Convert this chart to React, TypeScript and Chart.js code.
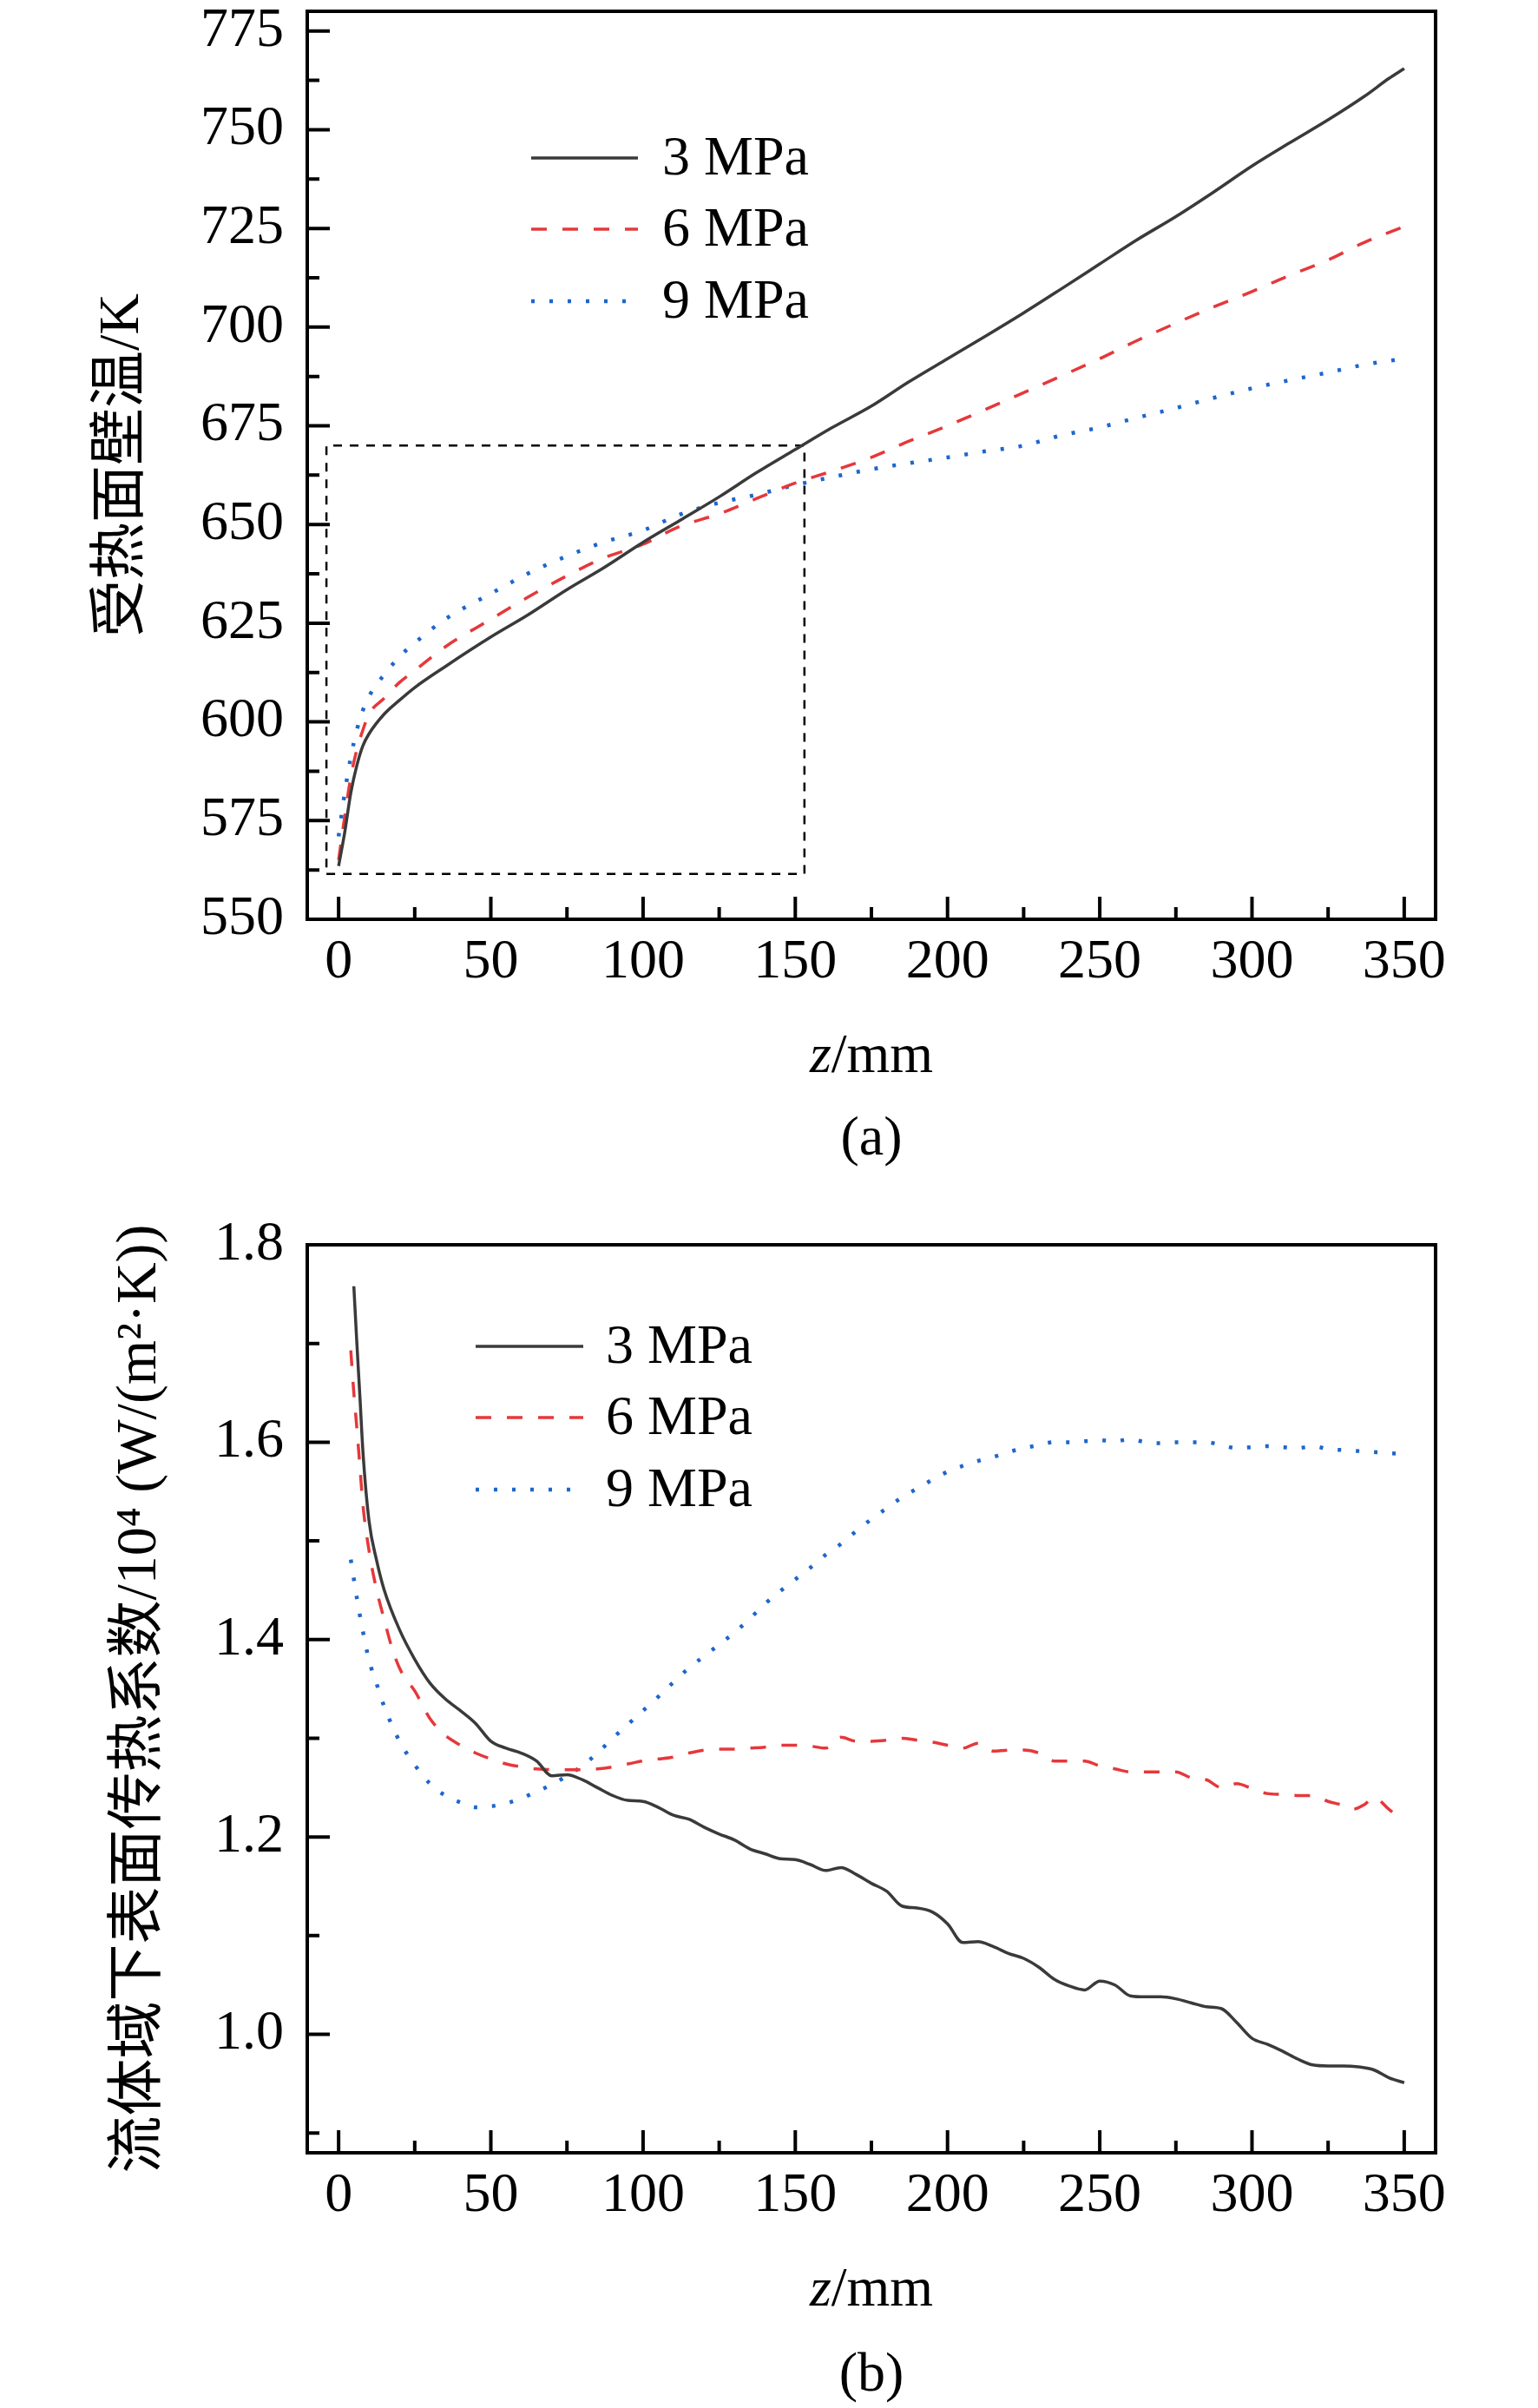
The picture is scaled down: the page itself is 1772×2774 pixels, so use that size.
import { useEffect, useRef } from "react";
import { Chart, registerables } from "chart.js";
Chart.register(...registerables);

const SERIES = ["3 MPa", "6 MPa", "9 MPa"];
const COLORS = ["#3a3a3a", "#e5383b", "#1e66cc"];
const DASHES = [[], [18, 18], [4, 17]];
const FONT = "'Liberation Serif', 'Noto Sans CJK SC', serif";

// (a) wall temperature, K
const zA3 = [0, 2, 4, 6, 8, 10, 15, 20, 25, 35, 50, 62, 75, 87, 100, 112, 125, 137, 150, 162, 175, 187, 200, 212, 225, 237, 250, 262, 275, 287, 300, 312, 325, 337, 345, 350];
const tA3 = [563.5, 572, 582, 589, 594, 597, 602, 605.5, 608.7, 614, 621.5, 627, 633.5, 639, 645.5, 651, 657, 663, 669, 674.5, 680, 686, 692, 697.5, 703.6, 709.5, 716, 722, 728, 734, 740.8, 746.5, 752.5, 758.5, 763, 765.5];
const zA6 = [0, 2, 4, 6, 8, 10, 15, 20, 25, 35, 50, 62, 75, 87, 100, 112, 125, 137, 150, 162, 175, 187, 200, 212, 225, 237, 250, 262, 275, 287, 300, 312, 325, 337, 350];
const tA6 = [565, 576, 586, 593, 598, 602, 606, 610, 613, 619, 626, 631.5, 637, 641.5, 645, 649.5, 652.7, 656.5, 660.5, 663.5, 667, 671, 675, 679, 683.4, 687.5, 692, 696.5, 701, 705, 709, 713, 717, 721.5, 725.5];
const zA9 = [0, 2, 4, 6, 8, 10, 15, 20, 25, 35, 50, 62, 75, 87, 100, 112, 125, 137, 150, 162, 175, 187, 200, 212, 225, 237, 250, 262, 275, 287, 300, 312, 325, 337, 350];
const tA9 = [571, 582, 591, 598, 603, 606.5, 612, 616.5, 620, 626, 632.5, 637.5, 642, 645.5, 648.5, 652.5, 655.5, 657.5, 660, 662, 664, 665.5, 667, 668.5, 670, 672.5, 674.6, 677, 679.5, 682, 684.5, 686.5, 688.5, 690.5, 692];
// zoom box in (a)
const boxZ = [-4, 153, 153, -4, -4];
const boxT = [561.5, 561.5, 670, 670, 561.5];

// (b) heat transfer coefficient, 10^4 W/(m2 K)
const zB3 = [5, 6, 7, 8, 10, 12.5, 15, 20, 25, 30, 35, 40, 45, 50, 55, 60, 65, 70, 75, 80, 85, 90, 95, 100, 105, 110, 115, 120, 125, 130, 135, 140, 145, 150, 155, 160, 165, 170, 175, 180, 185, 190, 195, 200, 205, 210, 215, 220, 225, 230, 235, 240, 245, 250, 255, 260, 265, 270, 275, 280, 285, 290, 295, 300, 305, 310, 315, 320, 325, 330, 335, 340, 345, 350];
const hB3 = [1.758, 1.7, 1.646, 1.59, 1.52, 1.48, 1.45, 1.41, 1.38, 1.356, 1.34, 1.328, 1.315, 1.297, 1.29, 1.285, 1.277, 1.262, 1.263, 1.258, 1.25, 1.242, 1.237, 1.236, 1.23, 1.222, 1.218, 1.21, 1.203, 1.197, 1.188, 1.183, 1.178, 1.177, 1.172, 1.166, 1.169, 1.162, 1.153, 1.145, 1.13, 1.128, 1.124, 1.112, 1.093, 1.094, 1.089, 1.082, 1.077, 1.068, 1.056, 1.049, 1.045, 1.054, 1.05, 1.039, 1.038, 1.038, 1.036, 1.032, 1.028, 1.026, 1.012, 0.996, 0.99, 0.983, 0.975, 0.969, 0.968, 0.968, 0.967, 0.964, 0.956, 0.951];
const zB6 = [4, 5, 6, 7, 8, 10, 12, 15, 18, 21, 25, 30, 35, 40, 45, 50, 55, 60, 65, 75, 80, 85, 90, 95, 100, 105, 110, 115, 120, 125, 130, 135, 140, 145, 150, 155, 160, 165, 170, 175, 180, 185, 190, 195, 200, 205, 210, 215, 220, 225, 230, 235, 240, 245, 250, 255, 260, 265, 270, 275, 280, 285, 290, 295, 300, 305, 310, 315, 320, 325, 330, 333, 337, 340, 345, 350];
const hB6 = [1.693, 1.65, 1.614, 1.575, 1.536, 1.49, 1.457, 1.42, 1.387, 1.365, 1.348, 1.32, 1.303, 1.293, 1.285, 1.279, 1.274, 1.271, 1.269, 1.268, 1.268, 1.269, 1.271, 1.274, 1.277, 1.279, 1.281, 1.285, 1.288, 1.289, 1.289, 1.29, 1.291, 1.293, 1.293, 1.292, 1.29, 1.301, 1.297, 1.297, 1.298, 1.3, 1.298, 1.296, 1.293, 1.29, 1.295, 1.287, 1.288, 1.288, 1.285, 1.277, 1.277, 1.277, 1.272, 1.269, 1.266, 1.266, 1.266, 1.266, 1.26, 1.258, 1.25, 1.254, 1.249, 1.244, 1.243, 1.242, 1.242, 1.236, 1.232, 1.228, 1.233, 1.24, 1.228, 1.215];
const zB9 = [4, 6, 8, 10, 12.5, 15, 20, 25, 30, 35, 40, 45, 50, 55, 60, 65, 70, 75, 80, 85, 90, 95, 100, 105, 110, 115, 120, 125, 130, 135, 140, 145, 150, 155, 160, 165, 170, 175, 180, 185, 190, 195, 200, 205, 210, 215, 220, 225, 230, 235, 240, 245, 250, 255, 260, 265, 270, 275, 280, 285, 290, 295, 300, 305, 310, 315, 320, 325, 330, 335, 340, 345, 350];
const hB9 = [1.481, 1.442, 1.408, 1.379, 1.355, 1.332, 1.297, 1.273, 1.254, 1.242, 1.235, 1.23, 1.231, 1.234, 1.239, 1.246, 1.253, 1.262, 1.272, 1.285, 1.3, 1.314, 1.328, 1.342, 1.357, 1.371, 1.383, 1.395, 1.407, 1.421, 1.436, 1.449, 1.461, 1.473, 1.486, 1.497, 1.51, 1.522, 1.533, 1.544, 1.553, 1.562, 1.57, 1.576, 1.581, 1.585, 1.59, 1.594, 1.597, 1.6, 1.6, 1.601, 1.602, 1.601, 1.603, 1.6, 1.599, 1.6, 1.6, 1.6, 1.597, 1.594, 1.595, 1.596, 1.595, 1.594, 1.596, 1.593, 1.592, 1.591, 1.59, 1.589, 1.588];

// ticks
const xMajor = [0, 50, 100, 150, 200, 250, 300, 350];
const xMinor = [25, 75, 125, 175, 225, 275, 325];
const yMajorA = [550, 575, 600, 625, 650, 675, 700, 725, 750, 775];
const yMinorA = [562.5, 587.5, 612.5, 637.5, 662.5, 687.5, 712.5, 737.5, 762.5];
const yMajorB = [1.0, 1.2, 1.4, 1.6, 1.8];
const yMinorB = [0.9, 1.1, 1.3, 1.5, 1.7];

const pts = (xs, ys) => xs.map((x, i) => ({ x, y: ys[i] }));

const framePlugin = {
  id: "frame",
  afterDraw(chart, _args, o) {
    const { ctx, chartArea: a, scales } = chart;
    const sx = scales.x;
    const sy = scales.y;
    ctx.save();
    ctx.strokeStyle = "#000";
    ctx.lineWidth = 4;
    ctx.beginPath();
    const xt = (vals, len) => vals.forEach((v) => {
      const p = sx.getPixelForValue(v);
      ctx.moveTo(p, a.bottom);
      ctx.lineTo(p, a.bottom - len);
    });
    const yt = (vals, len) => vals.forEach((v) => {
      const p = sy.getPixelForValue(v);
      ctx.moveTo(a.left, p);
      ctx.lineTo(a.left + len, p);
    });
    xt(xMajor, 26);
    xt(xMinor, 14);
    yt(o.yMajor, 26);
    yt(o.yMinor, 14);
    ctx.stroke();
    ctx.strokeRect(a.left, a.top, a.right - a.left, a.bottom - a.top);

    // legend
    ctx.textBaseline = "middle";
    ctx.textAlign = "left";
    ctx.font = "64px " + FONT;
    ctx.fillStyle = "#000";
    for (let i = 0; i < 3; i++) {
      const ds = chart.data.datasets[i];
      const y = a.top + o.legendRows[i];
      ctx.save();
      ctx.strokeStyle = ds.borderColor;
      ctx.lineWidth = ds.borderWidth;
      ctx.setLineDash(ds.borderDash);
      ctx.beginPath();
      ctx.moveTo(a.left + o.legendX[0], y);
      ctx.lineTo(a.left + o.legendX[1], y);
      ctx.stroke();
      ctx.restore();
      ctx.fillText(ds.label, a.left + o.legendX[2], y + 2);
    }

    // x title: italic z + /mm
    const cx = (a.left + a.right) / 2;
    ctx.font = "italic 64px " + FONT;
    const w1 = ctx.measureText("z").width;
    ctx.font = "64px " + FONT;
    const w2 = ctx.measureText("/mm").width;
    const x0 = cx - (w1 + w2) / 2;
    ctx.font = "italic 64px " + FONT;
    ctx.fillText("z", x0, a.bottom + 159);
    ctx.font = "64px " + FONT;
    ctx.fillText("/mm", x0 + w1, a.bottom + 159);

    // caption
    ctx.textAlign = "center";
    ctx.fillText(o.caption, cx, a.bottom + o.captionDy);

    // y title
    ctx.save();
    ctx.translate(o.yTitleX, (a.top + a.bottom) / 2);
    ctx.rotate(-Math.PI / 2);
    ctx.font = "66px " + FONT;
    ctx.fillText(o.yTitle, 0, 0);
    ctx.restore();
    ctx.restore();
  },
};

function makeConfig(p) {
  return {
    type: "line",
    data: {
      datasets: [
        ...p.series.map((s, i) => ({
          label: SERIES[i],
          data: s,
          borderColor: COLORS[i],
          borderWidth: i === 2 ? 4.5 : 3.5,
          borderDash: DASHES[i],
          pointRadius: 0,
          cubicInterpolationMode: "monotone",
          fill: false,
        })),
        ...(p.extra || []),
      ],
    },
    options: {
      animation: false,
      responsive: false,
      devicePixelRatio: 1,
      layout: { padding: { top: p.padTop, right: 118, left: 0, bottom: 0 } },
      plugins: {
        legend: { display: false },
        tooltip: { enabled: false },
        frame: p.frame,
      },
      scales: {
        x: {
          type: "linear",
          min: -10.3,
          max: 360.3,
          grid: { display: false, drawTicks: false },
          border: { display: false },
          afterBuildTicks: (s) => { s.ticks = xMajor.map((v) => ({ value: v })); },
          afterFit: (s) => {
            s.height = p.xHeight;
            s.paddingLeft = 0;
            s.paddingRight = 0;
          },
          ticks: {
            padding: 12,
            color: "#000",
            font: { family: FONT, size: 64 },
            callback: (v) => String(v),
          },
        },
        y: {
          type: "linear",
          min: p.yMin,
          max: p.yMax,
          grid: { display: false, drawTicks: false },
          border: { display: false },
          afterBuildTicks: (s) => { s.ticks = p.frame.yMajor.map((v) => ({ value: v })); },
          afterFit: (s) => {
            s.width = 354;
            s.paddingTop = 0;
            s.paddingBottom = 0;
          },
          ticks: {
            padding: 27,
            color: "#000",
            font: { family: FONT, size: 64 },
            callback: p.yFmt,
          },
        },
      },
    },
    plugins: [framePlugin],
  };
}

function Panel({ config, height, top }) {
  const ref = useRef(null);
  useEffect(() => {
    const chart = new Chart(ref.current.getContext("2d"), config);
    return () => chart.destroy();
  }, []);
  return (
    <canvas
      ref={ref}
      width={1772}
      height={height}
      style={{ position: "absolute", left: 0, top, width: 1772, height, display: "block" }}
    />
  );
}

const configA = makeConfig({
  series: [pts(zA3, tA3), pts(zA6, tA6), pts(zA9, tA9)],
  extra: [{
    label: "box",
    data: pts(boxZ, boxT),
    borderColor: "#000",
    borderWidth: 2.5,
    borderDash: [10, 9],
    pointRadius: 0,
    tension: 0,
    fill: false,
  }],
  padTop: 13,
  xHeight: 321,
  yMin: 550,
  yMax: 780,
  yFmt: (v) => String(v),
  frame: {
    yMajor: yMajorA,
    yMinor: yMinorA,
    legendRows: [169, 251, 334],
    legendX: [258, 381, 409],
    caption: "(a)",
    captionDy: 254,
    yTitle: "受热面壁温/K",
    yTitleX: 142,
  },
});

const configB = makeConfig({
  series: [pts(zB3, hB3), pts(zB6, hB6), pts(zB9, hB9)],
  padTop: 54,
  xHeight: 294,
  yMin: 0.88,
  yMax: 1.8,
  yFmt: (v) => Number(v).toFixed(1),
  frame: {
    yMajor: yMajorB,
    yMinor: yMinorB,
    legendRows: [117, 199, 282],
    legendX: [194, 318, 344],
    caption: "(b)",
    captionDy: 257,
    yTitle: "流体域下表面传热系数/10⁴ (W/(m²·K))",
    yTitleX: 162,
  },
});

export default function App() {
  return (
    <div style={{ position: "absolute", left: 0, top: 0, width: 1772, height: 2774, background: "#fff" }}>
      <Panel config={configA} height={1380} top={0} />
      <Panel config={configB} height={1394} top={1380} />
    </div>
  );
}
